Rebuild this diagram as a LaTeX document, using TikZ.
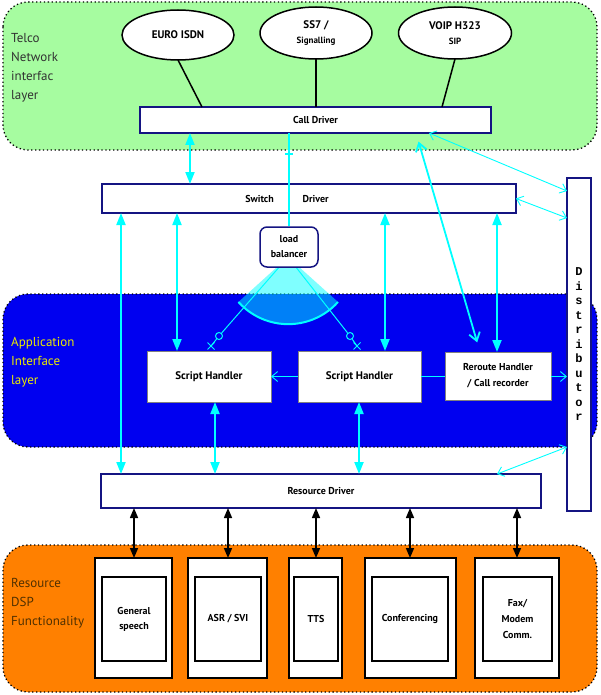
\documentclass[tikz,border=0pt]{standalone}
\usepackage{fontspec}
\setmainfont{PT Sans}
\newfontfamily\monob{Liberation Mono}
\usetikzlibrary{arrows.meta,shapes.geometric,shapes.misc,calc}
\definecolor{tgreen}{RGB}{166,252,160}
\definecolor{tblue}{RGB}{0,0,240}
\definecolor{torange}{RGB}{255,128,0}
\definecolor{navy}{RGB}{20,20,130}
\definecolor{cy}{RGB}{0,255,255}
\definecolor{apptxt}{RGB}{235,235,0}
\definecolor{restxt}{RGB}{80,48,0}
\definecolor{telcotxt}{RGB}{50,50,50}
\begin{document}
\begin{tikzpicture}[x=1pt,y=-1pt,
  layer/.style={draw=black, line width=1.3pt, dash pattern=on 1.3pt off 2.6pt, rounded corners=25pt},
  lbl/.style={anchor=west, align=left, inner sep=0pt, font=\fontsize{13}{19}\selectfont},
  drv/.style={draw=navy, line width=1.5pt, fill=white, inner sep=0pt, outer sep=0pt, anchor=north west, font=\bfseries\fontsize{10}{12}\selectfont},
  ell/.style={ellipse, draw=black, line width=1.5pt, fill=white, inner sep=0pt, outer sep=0pt, align=center},
  shbox/.style={draw=black!50, line width=0.6pt, fill=white, inner sep=0pt, outer sep=0pt, anchor=north west, align=center, font=\bfseries\fontsize{11}{13}\selectfont},
  obox/.style={draw=black, line width=1.6pt, fill=white, inner sep=0pt, outer sep=0pt, anchor=north west, minimum height=120pt},
  ibox/.style={draw=black, line width=2pt, fill=white, inner sep=0pt, outer sep=0pt, anchor=north west, minimum height=84pt, align=center, font=\bfseries\fontsize{10}{15}\selectfont},
  tarr/.style={draw=cy, line width=2pt, >={Triangle[length=12pt,width=9pt]}, <->},
  tthin/.style={draw=cy, line width=0.9pt, >={Straight Barb[length=6pt,width=10pt]}},
  barr/.style={draw=black, line width=1.5pt, >={Triangle[length=10pt,width=8pt]}, <->},
  blk/.style={draw=black, line width=1.5pt}
]
\fill[white] (0,0) rectangle (600,695);
\useasboundingbox (0,0) rectangle (600,695);

% layers
\draw[layer, fill=tgreen] (3,2) rectangle (597,150);
\draw[layer, fill=tblue] (3,294) rectangle (597,447);
\draw[layer, fill=torange] (3,545) rectangle (597,692);

\node[lbl, text=telcotxt] (tl) at (11,68) {Telco\\Network\\interfac\\layer};
\node[lbl, text=apptxt] (al) at (11,362) {Application\\Interface\\layer};
\node[lbl, text=restxt] (rl) at (11,603) {Resource\\DSP\\Functionality};

% ellipses
\node[ell, minimum width=112pt, minimum height=50pt, font=\bfseries\fontsize{11}{13}\selectfont] (e1) at (178,35) {EURO ISDN};
\node[ell, minimum width=112pt, minimum height=52pt, font=\bfseries\fontsize{11}{15}\selectfont] (e2) at (316,33) {SS7 /\\{\fontsize{9}{11}\selectfont Signalling}};
\node[ell, minimum width=113pt, minimum height=52pt, font=\bfseries\fontsize{11}{15}\selectfont] (e3) at (455,33) {VOIP H323\\{\fontsize{9}{11}\selectfont SIP}};

% drivers
\node[drv, minimum width=351pt, minimum height=26pt] (cd) at (140,107) {Call Driver};
\node[drv, minimum width=414pt, minimum height=29pt] (sd) at (102,184) {};
\node[font=\bfseries\fontsize{10}{12}\selectfont, inner sep=0pt] (sdt) at (287,199) {Switch\hspace{29pt}Driver};
\node[drv, minimum width=440pt, minimum height=34pt] (rd) at (101,474) {Resource Driver};
\node[drv, minimum width=24pt, minimum height=333pt, align=center, font=\monob\bfseries\fontsize{12}{14.5}\selectfont] (dist) at (567,178) {D\\i\\s\\t\\r\\i\\b\\u\\t\\o\\r};

% ellipse connectors
\draw[blk] (e1.south) -- (cd.north -| 202,0);
\draw[blk] (e2.south) -- (cd.north -| e2.south);
\draw[blk] (e3.south) -- (cd.north -| 442,0);

% load balancer sector
\coordinate (apex) at (288,257);
\fill[cy, fill opacity=0.5] (apex) -- (338,302) arc[start angle=42, end angle=138, radius=67] -- cycle;
\draw[cy, line width=2pt] (338,302) arc[start angle=42, end angle=138, radius=67];

% application boxes
\node[shbox, minimum width=124pt, minimum height=51pt] (sh1) at (147,351) {Script Handler};
\node[shbox, minimum width=123pt, minimum height=51pt] (sh2) at (298,351) {Script Handler};
\node[shbox, minimum width=106pt, minimum height=48pt, font=\bfseries\fontsize{10}{16}\selectfont] (rr) at (445,352) {Reroute Handler\\/ Call recorder};

% load balancer links
\node[circle, draw=cy, line width=1pt, minimum size=7pt, inner sep=0pt] (k1) at (219,336) {};
\node[circle, draw=cy, line width=1pt, minimum size=7pt, inner sep=0pt] (k2) at (350,336) {};
\node[cross out, draw=cy, line width=1pt, minimum size=6pt, inner sep=0pt] (x1) at (211,346) {};
\node[cross out, draw=cy, line width=1pt, minimum size=6pt, inner sep=0pt] (x2) at (357,346) {};
\draw[cy, line width=1pt] (apex) -- (k1);
\draw[cy, line width=1pt] (apex) -- (k2);
\draw[cy, line width=1pt] (k1) -- (x1.center);
\draw[cy, line width=1pt] (k2) -- (x2.center);

\node[draw=navy, line width=1.5pt, fill=white, rounded corners=7pt, minimum width=58pt, minimum height=40pt, inner sep=0pt, align=center, font=\bfseries\fontsize{10}{15}\selectfont] (lb) at (289,247) {load\\balancer};

% call driver to load balancer
\draw[cy, line width=1.4pt] (cd.south -| lb.north) -- (lb.north);
\draw[cy, line width=1.4pt] (285,154) -- (293,154);

% thick cyan arrows
\draw[tarr] (cd.south -| 190,0) -- (sd.north -| 190,0);
\draw[tarr] (sd.south -| 121,0) -- (rd.north -| 121,0);
\draw[tarr] (sd.south -| 177,0) -- (sh1.north -| 177,0);
\draw[tarr] (sd.south -| 385,0) -- (sh2.north -| 385,0);
\draw[tarr] (sd.south -| 497,0) -- (rr.north -| 497,0);
\draw[tarr] (sh1.south -| 215,0) -- (rd.north -| 215,0);
\draw[tarr] (sh2.south -| 359,0) -- (rd.north -| 359,0);

% call driver <-> reroute
\draw[draw=cy, line width=1.8pt, >={Straight Barb[length=8pt,width=11pt]}, <->, shorten <=9pt, shorten >=10pt] (cd.south -| 416,0) -- (rr.north -| 480,0);

% thin cyan arrows
\draw[tthin, <->] (cd.south -| 429,0) -- (dist.west |- 0,191);
\draw[tthin, <->] (sd.east) -- (dist.west |- 0,218);
\draw[tthin, <->] (dist.west |- 0,447) -- (rd.north -| 497,0);
\draw[tthin, ->] (sh2.west) -- (sh1.east);
\draw[draw=cy, line width=0.9pt] (sh2.east) -- (rr.west |- sh2.east);
\draw[tthin, ->] (rr.east |- sh2.east) -- (dist.west |- sh2.east);

% resource boxes
\node[obox, minimum width=77pt] (o1) at (95,558) {};
\node[obox, minimum width=79pt] (o2) at (188,558) {};
\node[obox, minimum width=53pt] (o3) at (289,558) {};
\node[obox, minimum width=91pt] (o4) at (365,558) {};
\node[obox, minimum width=84pt] (o5) at (475,558) {};
\node[ibox, minimum width=64pt] (i1) at (102,577) {General\\speech};
\node[ibox, minimum width=66pt] (i2) at (195,577) {ASR / SVI};
\node[ibox, minimum width=44pt] (i3) at (294,577) {TTS};
\node[ibox, minimum width=76pt] (i4) at (372,577) {Conferencing};
\node[ibox, minimum width=69pt, font=\bfseries\fontsize{10}{16}\selectfont] (i5) at (483,577) {Fax/\\Modem\\Comm.};

% black arrows
\draw[barr] (rd.south -| 134,0) -- (o1.north -| 134,0);
\draw[barr] (rd.south -| 228,0) -- (o2.north -| 228,0);
\draw[barr] (rd.south -| 316,0) -- (o3.north -| 316,0);
\draw[barr] (rd.south -| 410,0) -- (o4.north -| 410,0);
\draw[barr] (rd.south -| 517,0) -- (o5.north -| 517,0);
\end{tikzpicture}
\end{document}
